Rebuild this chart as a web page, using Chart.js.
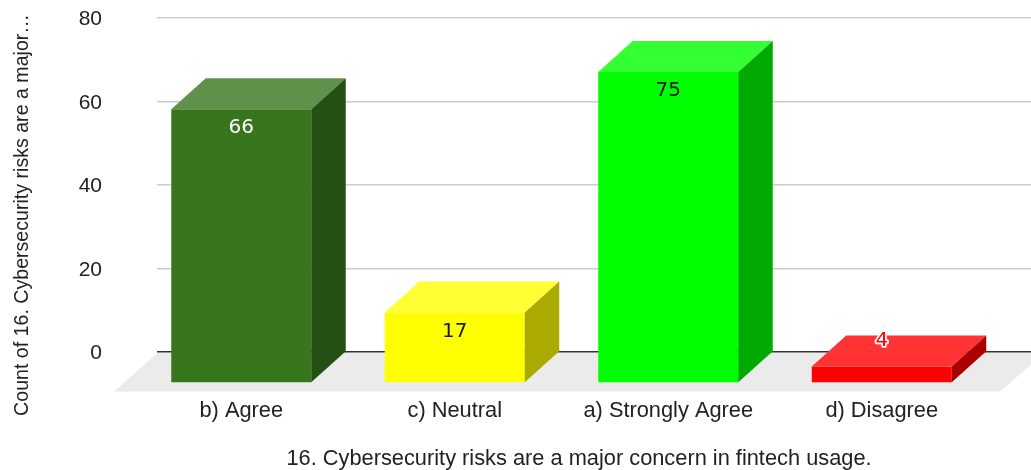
<!DOCTYPE html>
<html>
<head>
<meta charset="utf-8">
<style>
html,body{margin:0;padding:0;background:#fff;overflow:hidden}
canvas{display:block}
</style>
<script src="https://cdn.jsdelivr.net/npm/chart.js@4"></script>
</head>
<body>
<canvas id="chart" width="1031" height="470"></canvas>
<script>
const categories = ['b) Agree', 'c) Neutral', 'a) Strongly Agree', 'd) Disagree'];
const counts = [66, 17, 75, 4];
const yTicks = [0, 20, 40, 60, 80];
const frontColors = ['#38761d', '#ffff00', '#00ff00', '#ff0000'];
const topColors = ['#60914a', '#ffff33', '#33ff33', '#ff3333'];
const sideColors = ['#255013', '#aaaa00', '#00aa00', '#aa0000'];
const labelColors = ['#ffffff', '#1a1a1a', '#1a1a1a', '#ff0000'];
const xAxisTitle = '16. Cybersecurity risks are a major concern in fintech usage.';
const yAxisTitle = 'Count of 16. Cybersecurity risks are a major…';

// Oblique projection of the bar boxes
const DEPTH_X = 34.5;
const DEPTH_Y = 31;
const FRONT_SCALE = 0.9935;
const SANS = '"Liberation Sans", Arial, sans-serif';

const box3d = {
  id: 'box3d',
  afterLayout(chart) {
    // Front plane of the boxes sits left of the back wall carrying the grid
    const x = chart.scales.x;
    x.left = 134.5;
    x.right = 988.5;
    x.width = x.right - x.left;
    x.configure();
  },
  beforeDraw(chart) {
    const { ctx, chartArea } = chart;
    const y0 = chart.scales.y.getPixelForValue(0);
    ctx.save();
    ctx.fillStyle = '#ebebeb';
    ctx.beginPath();
    ctx.moveTo(chartArea.left + 1, y0 + 0.5);
    ctx.lineTo(1045, y0 + 0.5);
    ctx.lineTo(1000, y0 + 39.5);
    ctx.lineTo(114, y0 + 39.5);
    ctx.closePath();
    ctx.fill();
    ctx.restore();
  },
  beforeDatasetsDraw(chart) {
    const { ctx } = chart;
    const y0 = chart.scales.y.getPixelForValue(0);
    ctx.save();
    ctx.translate(0, y0 + DEPTH_Y);
    ctx.scale(1, FRONT_SCALE);
    ctx.translate(0, -y0);
  },
  afterDatasetsDraw(chart) {
    const { ctx } = chart;
    ctx.restore();
    const y0 = chart.scales.y.getPixelForValue(0);
    const front = (py) => y0 + DEPTH_Y - (y0 - py) * FRONT_SCALE;
    chart.getDatasetMeta(0).data.forEach((bar, i) => {
      const l = bar.x - bar.width / 2;
      const r = bar.x + bar.width / 2;
      const t = front(bar.y);
      const b = front(bar.base);
      ctx.fillStyle = topColors[i];
      ctx.beginPath();
      ctx.moveTo(l, t);
      ctx.lineTo(l + DEPTH_X, t - DEPTH_Y);
      ctx.lineTo(r + DEPTH_X, t - DEPTH_Y);
      ctx.lineTo(r, t);
      ctx.closePath();
      ctx.fill();
      ctx.fillStyle = sideColors[i];
      ctx.beginPath();
      ctx.moveTo(r, t);
      ctx.lineTo(r + DEPTH_X, t - DEPTH_Y);
      ctx.lineTo(r + DEPTH_X, b - DEPTH_Y);
      ctx.lineTo(r, b);
      ctx.closePath();
      ctx.fill();

      // Value labels: inside the front face, or halo-outlined at the back edge of short boxes
      const short = b - t < 40;
      const ly = short ? t - 26 : t + 19;
      ctx.font = '20px "DejaVu Sans", sans-serif';
      ctx.textAlign = 'center';
      ctx.textBaseline = 'middle';
      if (short) {
        ctx.strokeStyle = '#ffffff';
        ctx.lineWidth = 3.5;
        ctx.lineJoin = 'round';
        ctx.strokeText(String(counts[i]), bar.x, ly);
      }
      ctx.fillStyle = labelColors[i];
      ctx.fillText(String(counts[i]), bar.x, ly);
    });
  },
  afterDraw(chart) {
    const { ctx } = chart;
    ctx.save();
    ctx.fillStyle = '#222222';
    ctx.textBaseline = 'middle';
    ctx.textAlign = 'center';
    ctx.font = '21.8px ' + SANS;
    ctx.fillText(xAxisTitle, 579, 459);
    ctx.font = '19.6px ' + SANS;
    ctx.translate(23, 215);
    ctx.rotate(-Math.PI / 2);
    ctx.fillText(yAxisTitle, 0, 0);
    ctx.restore();
  }
};

new Chart(document.getElementById('chart'), {
  type: 'bar',
  data: {
    labels: categories,
    datasets: [{
      data: counts,
      backgroundColor: frontColors,
      borderWidth: 0,
      barPercentage: 140 / 213.5,
      categoryPercentage: 1,
      clip: false
    }]
  },
  options: {
    responsive: false,
    animation: false,
    layout: { padding: { top: 18, right: 0, bottom: 0, left: 0 } },
    plugins: { legend: { display: false }, tooltip: { enabled: false }, title: { display: false } },
    scales: {
      x: {
        grid: { display: false },
        border: { display: false },
        ticks: { color: '#222222', font: { family: SANS, size: 21.8 }, padding: 38, maxRotation: 0, autoSkip: false },
        afterFit(s) { s.height = 118; }
      },
      y: {
        min: 0,
        max: 80,
        afterBuildTicks(s) { s.ticks = yTicks.map((value) => ({ value })); },
        grid: {
          drawTicks: false,
          lineWidth: 1.5,
          color: (c) => (c.tick && c.tick.value === 0 ? '#333333' : '#cccccc')
        },
        border: { display: false },
        ticks: { color: '#222222', font: { family: SANS, size: 21 }, padding: 55, labelOffset: 1.5 },
        afterFit(s) {
          s.width = 157;
          s.paddingTop = 0;
          s.paddingBottom = 0;
        }
      }
    }
  },
  plugins: [box3d]
});
</script>
</body>
</html>
